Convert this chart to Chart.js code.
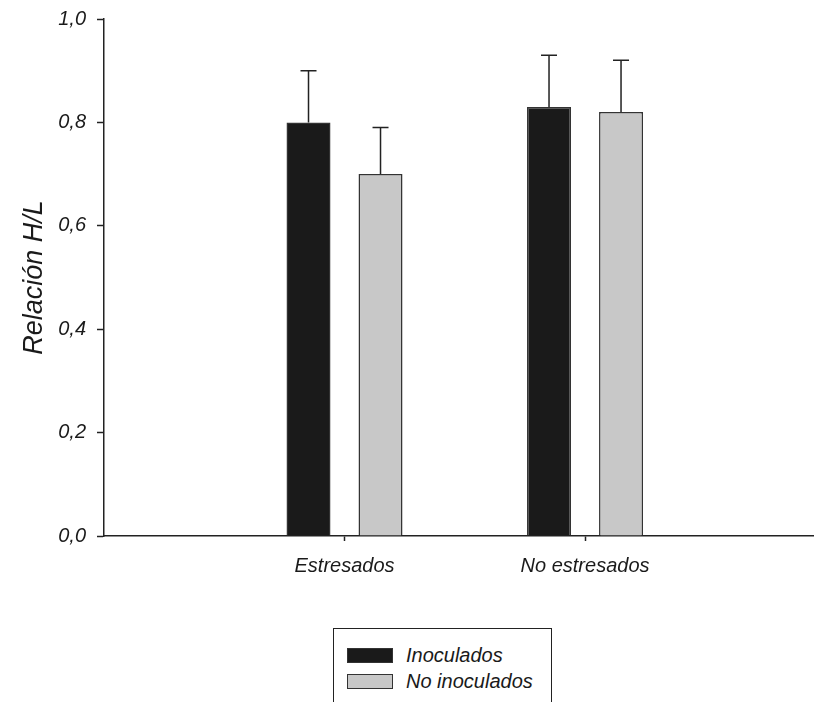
<!DOCTYPE html>
<html>
<head>
<meta charset="utf-8">
<script src="https://cdn.jsdelivr.net/npm/chart.js@4/dist/chart.umd.min.js"></script>
<style>
  html, body { margin:0; padding:0; background:#fff; }
  #wrap { position:relative; width:814px; height:702px; overflow:hidden; }
  #legend {
    position:absolute; left:333px; top:628px; width:217px; height:90px;
    border:1.5px solid #222; background:#fff;
    font-family:"Liberation Sans", Arial, sans-serif; font-style:italic; font-size:20px; color:#1a1a1a;
  }
  .lg-row { position:absolute; left:13px; height:16px; display:flex; align-items:center; }
  .lg-sw  { width:44px; height:13px; border:1.5px solid #333; margin-right:13px; }
</style>
</head>
<body>
<div id="wrap">
  <canvas id="ch" width="814" height="702"></canvas>
  <div id="legend"></div>
</div>
<script>
/* ── data ── */
const categories  = ['Estresados', 'No estresados'];
const seriesNames = ['Inoculados', 'No inoculados'];
const inoculados    = [0.80, 0.83];
const noInoculados  = [0.70, 0.82];
const errInoculados   = [0.10, 0.10];
const errNoInoculados = [0.09, 0.10];
const yTicks = [0, 0.2, 0.4, 0.6, 0.8, 1.0];

const FONT = '"Liberation Sans", Arial, sans-serif';
const fills = ['#1a1a1a', '#c8c8c8'];

/* ── error bars (upward only, with cap) ── */
const errorBars = {
  id: 'errorBars',
  afterDatasetsDraw(chart) {
    const ctx = chart.ctx;
    const y = chart.scales.y;
    chart.data.datasets.forEach((ds, di) => {
      const meta = chart.getDatasetMeta(di);
      meta.data.forEach((bar, i) => {
        const top = y.getPixelForValue(ds.data[i].y + ds.errors[i]);
        ctx.save();
        ctx.strokeStyle = '#222';
        ctx.lineWidth = 1.5;
        ctx.beginPath();
        ctx.moveTo(bar.x, bar.y);
        ctx.lineTo(bar.x, top);
        ctx.moveTo(bar.x - 8, top);
        ctx.lineTo(bar.x + 8, top);
        ctx.stroke();
        ctx.restore();
      });
    });
  }
};

const toPoints = arr => arr.map((v, i) => ({ x: i + 1, y: v }));

const chart = new Chart(document.getElementById('ch'), {
  type: 'bar',
  data: {
    datasets: [
      { label: seriesNames[0], data: toPoints(inoculados),   errors: errInoculados,
        backgroundColor: fills[0], borderColor: '#333', borderWidth: 1.5 },
      { label: seriesNames[1], data: toPoints(noInoculados), errors: errNoInoculados,
        backgroundColor: fills[1], borderColor: '#333', borderWidth: 1.5 },
    ]
  },
  options: {
    responsive: false, animation: false,
    layout: { padding: { top: 19, left: 0, right: 0, bottom: 0 } },
    categoryPercentage: 0.5988,
    barPercentage: 0.611,
    plugins: { legend: { display: false }, tooltip: { enabled: false } },
    scales: {
      x: {
        type: 'linear', min: 0, max: 2.952, offset: false,
        afterBuildTicks: s => { s.ticks = categories.map((_, i) => ({ value: i + 1 })); },
        afterFit: s => { s.height = 166; },
        grid: { offset: false, drawOnChartArea: false, drawTicks: true, tickLength: 5, tickColor: '#222', tickWidth: 1.5 },
        border: { color: '#222', width: 1.5 },
        ticks: { padding: 13, autoSkip: false, maxRotation: 0, color: '#1a1a1a',
                 font: { family: FONT, size: 20, style: 'italic' },
                 callback: v => categories[v - 1] || '' }
      },
      y: {
        min: 0, max: 1,
        afterBuildTicks: s => { s.ticks = yTicks.map(v => ({ value: v })); },
        afterFit: s => { s.width = 104; s.paddingTop = 0; s.paddingBottom = 0; },
        grid: { drawOnChartArea: false, drawTicks: true, tickLength: 7, tickColor: '#222', tickWidth: 1.5 },
        border: { color: '#222', width: 1.5 },
        ticks: { padding: 11, color: '#1a1a1a', font: { family: FONT, size: 20, style: 'italic' },
                 callback: v => v.toFixed(1).replace('.', ',') },
        title: { display: true, text: 'Relación H/L', color: '#1a1a1a', padding: { top: 18, bottom: 0 },
                 font: { family: FONT, size: 27, style: 'italic', weight: 'normal' } }
      }
    }
  },
  plugins: [errorBars]
});

/* ── legend box ── */
const lg = document.getElementById('legend');
chart.data.datasets.forEach((ds, i) => {
  const row = document.createElement('div');
  row.className = 'lg-row';
  row.style.top = (18 + i * 26) + 'px';
  row.innerHTML = `<span class="lg-sw" style="background:${ds.backgroundColor}"></span><span>${ds.label}</span>`;
  lg.appendChild(row);
});
</script>
</body>
</html>
